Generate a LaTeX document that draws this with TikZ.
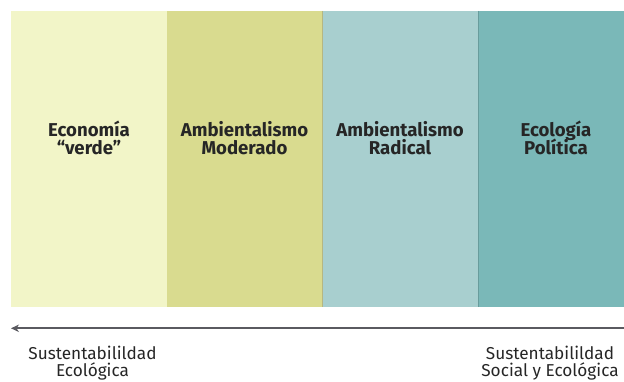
\documentclass[tikz,border=0pt]{standalone}
\usepackage{fontspec}
\setmainfont{Fira Sans}
\usetikzlibrary{arrows.meta}
\setlength{\lineskiplimit}{-30pt}
\definecolor{cA}{HTML}{F2F5C8}
\definecolor{cB}{HTML}{D9DB8F}
\definecolor{cC}{HTML}{A8CFCF}
\definecolor{cD}{HTML}{7AB8B8}
\definecolor{arrowgray}{HTML}{5A5A60}
\tikzset{
  band/.style={minimum height=296pt, inner sep=0pt, outer sep=0pt, anchor=north west},
  bandlabel/.style={font=\fontsize{18.6}{17.5}\selectfont\bfseries, text=black!85, align=center, anchor=base, inner sep=0pt},
  endlabel/.style={font=\fontsize{17.2}{16.5}\selectfont, text=black!85, align=center, anchor=base, inner sep=0pt},
  axis/.style={draw=arrowgray, line width=1.8pt, -{Stealth[length=8pt,width=7.5pt]}}
}
\begin{document}
\begin{tikzpicture}[x=1pt,y=1pt]
\useasboundingbox (0,0) rectangle (624,381);
\node[band, fill=cA, minimum width=156pt] (b1) at (11,370) {};
\node[band, fill=cB, minimum width=155pt] (b2) at (167,370) {};
\node[band, fill=cC, minimum width=156pt] (b3) at (322,370) {};
\node[band, fill=cD, minimum width=160pt] (b4) at (478,370) {};
\draw[cB!80!black!90, line width=0.6pt] (b2.north east) -- (b2.south east);
\draw[cD!85!black, line width=0.8pt] (b4.north west) -- (b4.south west);
\node[bandlabel] (l1) at (89,227) {Economía\\“verde”};
\node[bandlabel] (l2) at (244.5,227) {Ambientalismo\\Moderado};
\node[bandlabel] (l3) at (400,227) {Ambientalismo\\Radical};
\node[bandlabel] (l4) at (556,227) {Ecología\\Política};
\coordinate (aR) at (624,52.7);
\coordinate (aL) at (11,52.7);
\draw[axis] (aR) -- (aL);
\node[endlabel] (e1) at (92.5,4.6) {Sustentabilildad\\Ecológica};
\node[endlabel] (e2) at (550,4.6) {Sustentabilildad\\Social y Ecológica};
\end{tikzpicture}
\end{document}
